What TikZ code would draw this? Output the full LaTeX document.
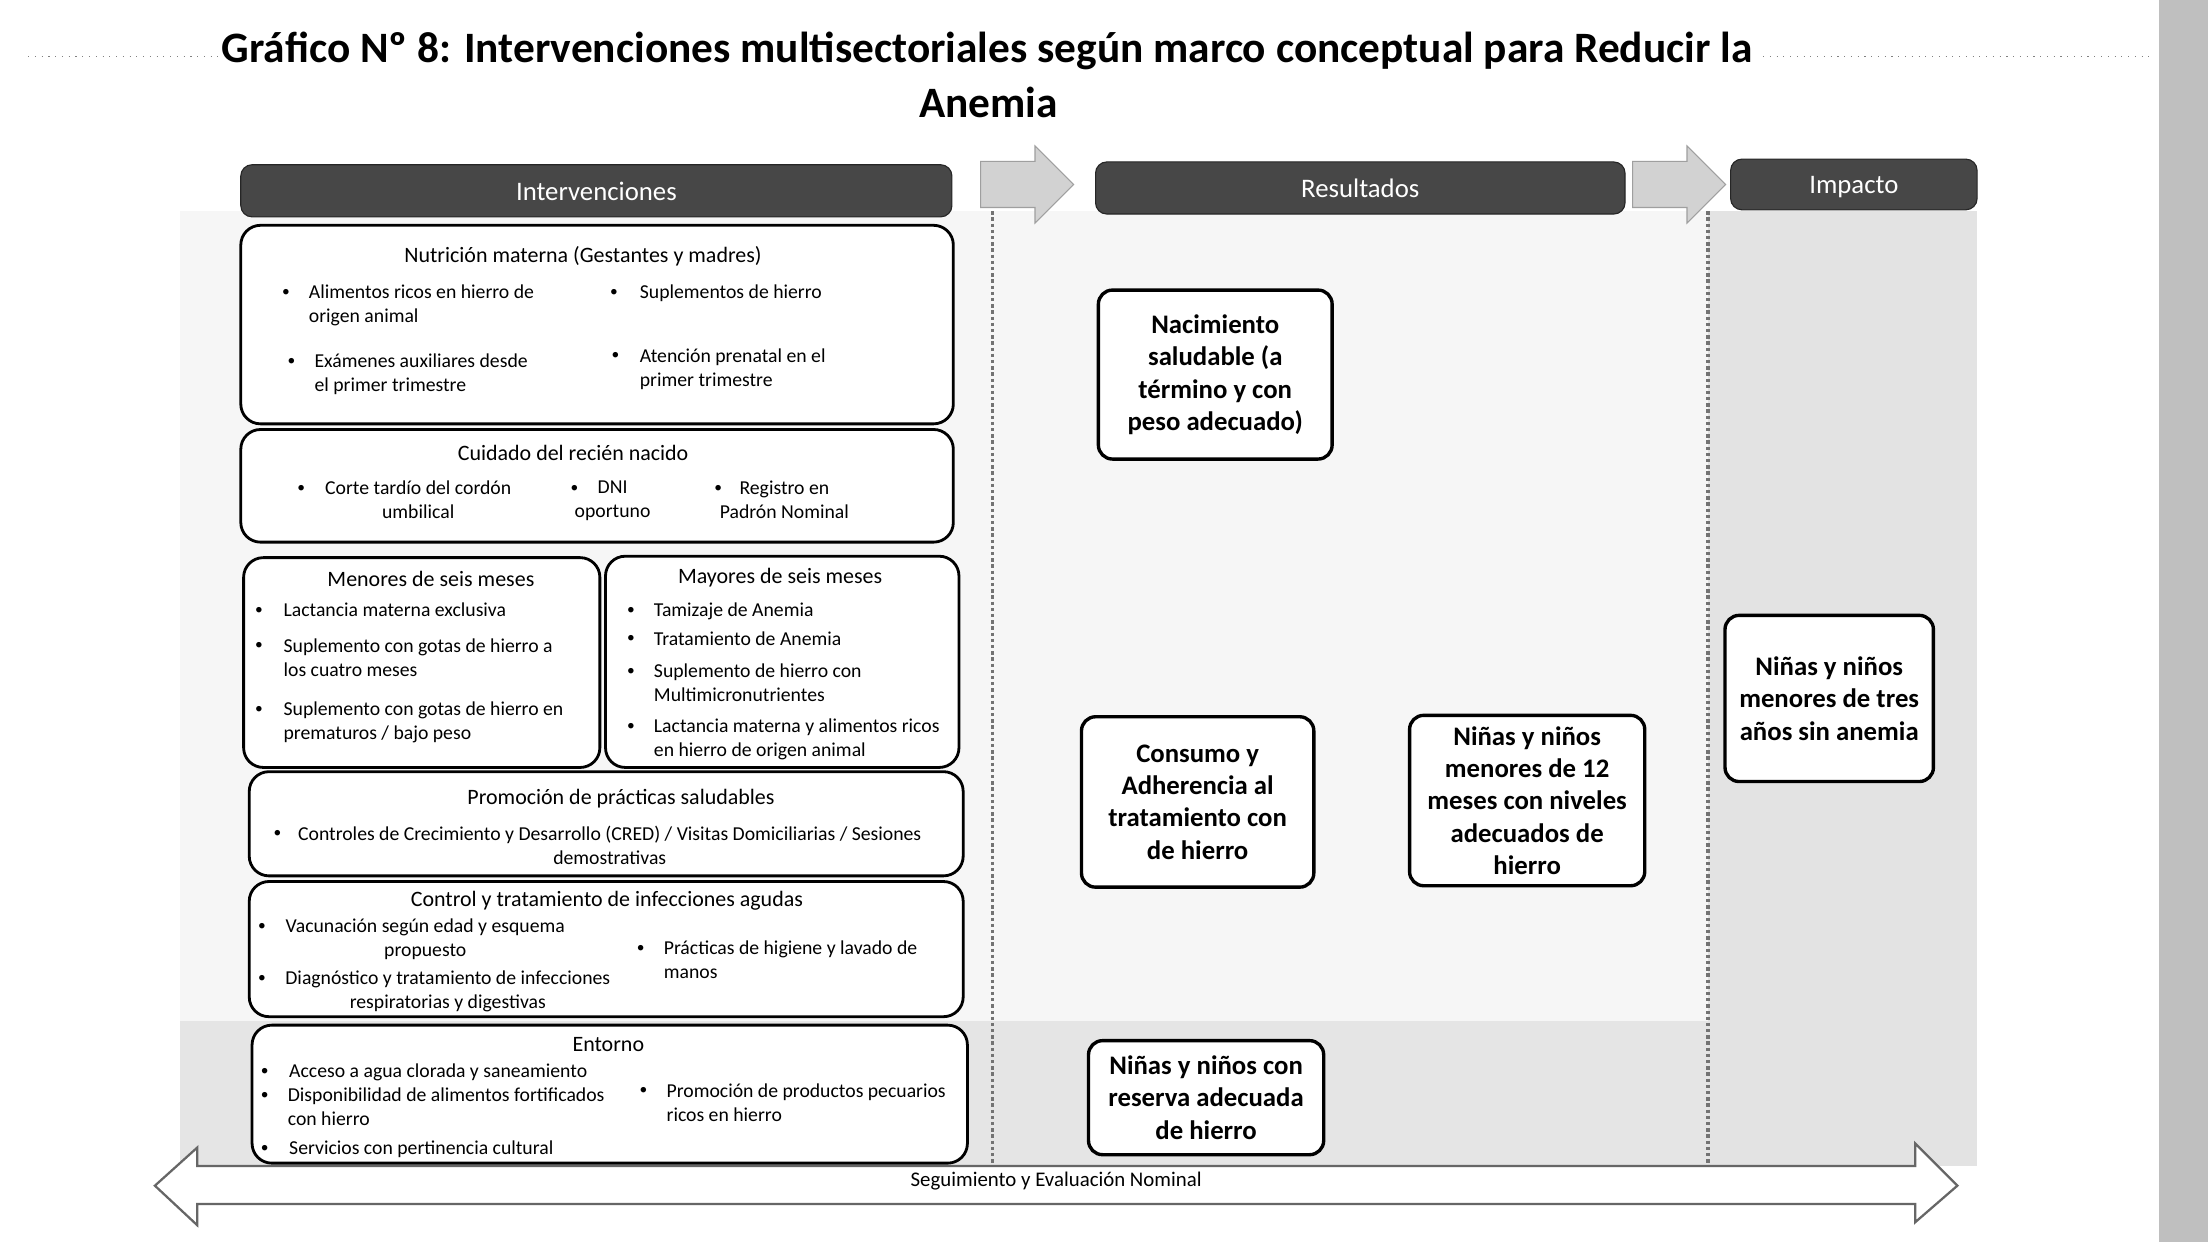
\documentclass[tikz,border=0pt]{standalone}
\usepackage{fontspec}
\setmainfont{Carlito}
\usetikzlibrary{fit,shapes.arrows}
\tikzset{
  hdr/.style={fill=black!72, draw=black!85, rounded corners=4pt, inner sep=0pt},
  hdrtxt/.style={inner sep=0pt, text=white, text depth=0pt, font=\fontsize{9.5}{11}\selectfont},
  caja/.style={draw, line width=1pt, rounded corners=7pt, fill=white, inner sep=0pt},
  resbox/.style={draw, line width=1.2pt, rounded corners=5pt, fill=white, inner sep=0pt},
  restxt/.style={inner sep=0pt, align=center, font=\bfseries\fontsize{9.5}{11.5}\selectfont},
  tit/.style={inner sep=0pt, font=\fontsize{7.8}{9}\selectfont},
  itm/.style={inner sep=0pt, anchor=north west, align=left, font=\fontsize{7}{8.5}\selectfont},
  itmc/.style={itm, align=center, anchor=north},
  bul/.style={inner sep=0pt, font=\fontsize{5.5}{7}\selectfont},
  flecha/.style={single arrow, draw=gray!75, fill=gray!35, inner sep=8pt, single arrow head extend=5.5pt, minimum height=33pt, anchor=west}
}
\begin{document}
\begin{tikzpicture}[x=0.5pt,y=-0.5pt]
\useasboundingbox (0,0) rectangle (1568,882);
\fill[white] (0,0) rectangle (1568,882);
\fill[gray!50] (1533,0) rectangle (1568,882);
\draw[gray, dotted] (20,40) -- (155,40);
\draw[gray, dotted] (1252,40) -- (1530,40);

\fill[gray!7] (128,150) rectangle (1213,828);
\fill[gray!20] (128,725) rectangle (1213,828);
\fill[gray!22] (1213,150) rectangle (1404,828);
\draw[black!55, densely dotted, line width=1.2pt] (705,150) -- (705,828);
\draw[black!55, densely dotted, line width=1.2pt] (1213,150) -- (1213,828);

\draw[fill=white, draw=black!60, line width=0.8pt] (110,842) -- (140,815) -- (140,828) -- (1360,828) -- (1360,812) -- (1390,842) -- (1360,868) -- (1360,855) -- (140,855) -- (140,870) -- cycle;
\node[inner sep=0pt, font=\fontsize{7.4}{9}\selectfont] (seg) at (750,839) {Seguimiento y Evaluación Nominal};

\node[font=\bfseries\fontsize{15.4}{18}\selectfont, inner sep=0pt] (titulo) at (701,36) {Gráfico Nº 8: Intervenciones multisectoriales según marco conceptual para Reducir la};
\node[font=\bfseries\fontsize{15.4}{18}\selectfont, inner sep=0pt] (titulo2) at (702,73) {Anemia};

\node[hdr, fit={(171,117) (676,154)}] (hint) {};
\node[hdr, fit={(778,115) (1154,152)}] (hres) {};
\node[hdr, fit={(1229,113) (1404,149)}] (himp) {};
\node[hdrtxt] (thint) at (hint.center) {Intervenciones};
\node[hdrtxt] (thres) at (hres.center) {Resultados};
\node[hdrtxt] (thimp) at (himp.center) {Impacto};
\node[flecha] (fl1) at (696,131) {};
\node[flecha] (fl2) at (1159,131) {};

\node[caja, fit={(171,160) (677,301)}] (nut) {};
\node[caja, fit={(171,305) (677,385)}] (cui) {};
\node[caja, fit={(173,396) (426,545)}] (men) {};
\node[caja, fit={(430,395) (681,545)}] (may) {};
\node[caja, fit={(177,548) (684,622)}] (pro) {};
\node[caja, fit={(177,626) (684,722)}] (con) {};
\node[caja, fit={(179,728) (687,826)}] (ent) {};

\node[tit] (tnut) at (414,182) {Nutrición materna (Gestantes y madres)};
\node[tit] (tcui) at (407,322) {Cuidado del recién nacido};
\node[tit] (tmen) at (306,411) {Menores de seis meses};
\node[tit] (tmay) at (554,410) {Mayores de seis meses};
\node[tit] (tpro) at (441,567) {Promoción de prácticas saludables};
\node[tit] (tcon) at (431,640) {Control y tratamiento de infecciones agudas};
\node[tit] (tent) at (432,742) {Entorno};

\foreach \x/\y [count=\i] in {203/208,436/208,207/257,437/253,214/347,408/347,510/347,184/434,184/459,184/504,448/434,448/454,448/477,448/516,197/592,186/658,186/695,455/674,188/761,188/778,188/816,457/775}
  \node[bul] (bul\i) at (\x,\y) {\textbullet};

\node[itm] (nut1) at (219,202) {Alimentos ricos en hierro de\\origen animal};
\node[itm] (nut2) at (454,202) {Suplementos de hierro};
\node[itm] (nut3) at (223,251) {Exámenes auxiliares desde\\el primer trimestre};
\node[itm] (nut4) at (454,247) {Atención prenatal en el\\primer trimestre};

\node[itmc] (cui1) at (297,341) {Corte tardío del cordón\\umbilical};
\node[itmc] (cui2) at (435,341) {DNI\\oportuno};
\node[itmc] (cui3) at (557,341) {Registro en\\Padrón Nominal};

\node[itm] (men1) at (201,428) {Lactancia materna exclusiva};
\node[itm] (men2) at (201,453) {Suplemento con gotas de hierro a\\los cuatro meses};
\node[itm] (men3) at (201,498) {Suplemento con gotas de hierro en\\prematuros / bajo peso};

\node[itm] (may1) at (464,428) {Tamizaje de Anemia};
\node[itm] (may2) at (464,448) {Tratamiento de Anemia};
\node[itm] (may3) at (464,471) {Suplemento de hierro con\\Multimicronutrientes};
\node[itm] (may4) at (464,510) {Lactancia materna y alimentos ricos\\en hierro de origen animal};

\node[itmc] (pro1) at (433,586) {Controles de Crecimiento y Desarrollo (CRED) / Visitas Domiciliarias / Sesiones\\demostrativas};

\node[itmc] (con1) at (302,652) {Vacunación según edad y esquema\\propuesto};
\node[itmc] (con2) at (318,689) {Diagnóstico y tratamiento de infecciones\\respiratorias y digestivas};
\node[itm] (con3) at (471,668) {Prácticas de higiene y lavado de\\manos};

\node[itm] (ent1) at (205,755) {Acceso a agua clorada y saneamiento};
\node[itm] (ent2) at (204,772) {Disponibilidad de alimentos fortificados\\con hierro};
\node[itm] (ent3) at (205,810) {Servicios con pertinencia cultural};
\node[itm] (ent4) at (473,769) {Promoción de productos pecuarios\\ricos en hierro};

\node[resbox, fit={(780,206) (946,326)}] (nac) {};
\node[resbox, fit={(768,509) (933,630)}] (adh) {};
\node[resbox, fit={(1001,508) (1168,629)}] (niv) {};
\node[resbox, fit={(773,739) (940,820)}] (rsv) {};
\node[resbox, fit={(1225,437) (1373,555)}] (ane) {};
\node[restxt] (tnac) at (nac.center) {Nacimiento\\saludable (a\\término y con\\peso adecuado)};
\node[restxt] (tadh) at (adh.center) {Consumo y\\Adherencia al\\tratamiento con\\de hierro};
\node[restxt] (tniv) at (niv.center) {Niñas y niños\\menores de 12\\meses con niveles\\adecuados de\\hierro};
\node[restxt] (trsv) at (rsv.center) {Niñas y niños con\\reserva adecuada\\de hierro};
\node[restxt] (tane) at (ane.center) {Niñas y niños\\menores de tres\\años sin anemia};
\end{tikzpicture}
\end{document}
